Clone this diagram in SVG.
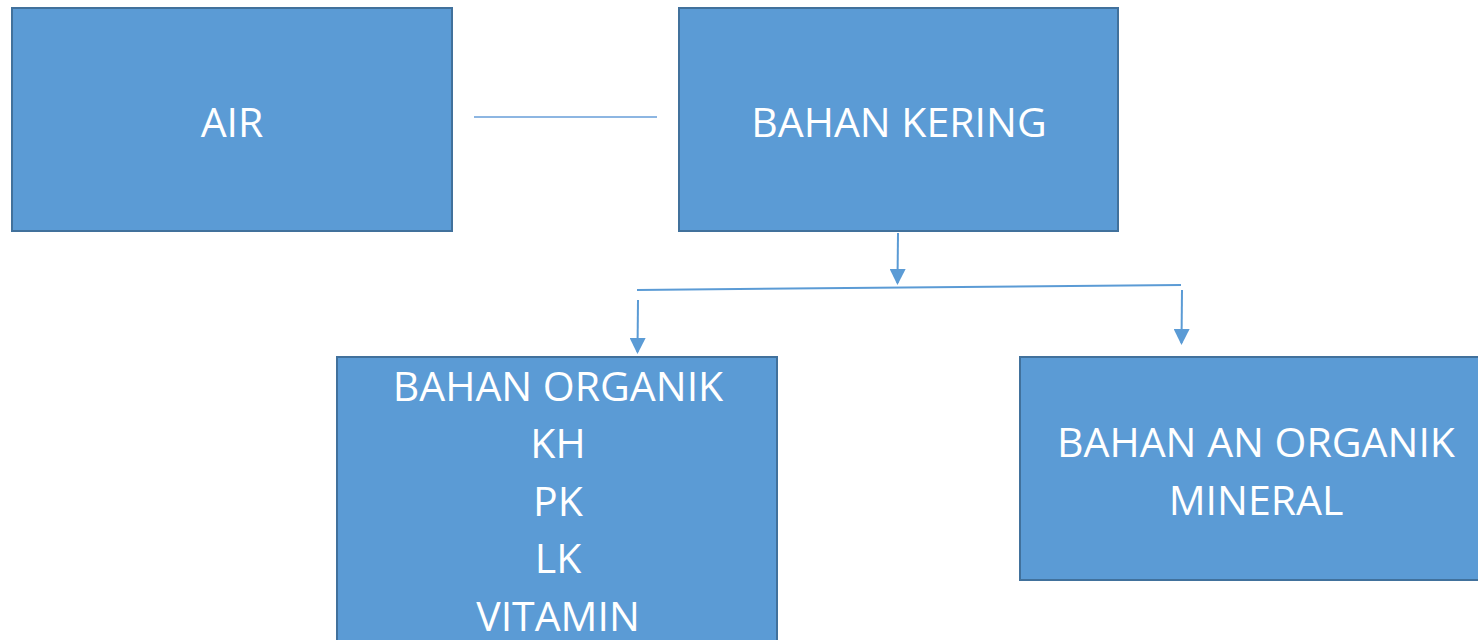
<svg xmlns="http://www.w3.org/2000/svg" width="1478" height="640" viewBox="0 0 1478 640">
<style>
.box{fill:#5B9BD5;stroke:#41719C;stroke-width:2}
.lbl{font-family:"Open Sans","Noto Sans",sans-serif;font-size:41px;fill:#fff;text-anchor:middle}
.con{stroke:#5B9BD5;stroke-width:2;fill:none}
.plain{stroke:#8DB6E2;stroke-width:2;fill:none}
</style>
<defs>
<marker id="ah" markerWidth="8" markerHeight="8" refX="7" refY="4" orient="auto" markerUnits="strokeWidth">
<path d="M0,0 L8,4 L0,8 Z" fill="#5B9BD5"/>
</marker>
</defs>
<rect width="1478" height="640" fill="#fff"/>
<g id="node-air">
<rect class="box" x="12" y="8" width="440" height="223"/>
<text class="lbl" x="232" y="137">AIR</text>
</g>
<g id="node-bahan-kering">
<rect class="box" x="679" y="8" width="439" height="223"/>
<text class="lbl" x="899" y="137">BAHAN KERING</text>
</g>
<g id="node-bahan-organik">
<rect class="box" x="337" y="357" width="440" height="300"/>
<text class="lbl" x="558" y="401">BAHAN ORGANIK</text>
<text class="lbl" x="558" y="458">KH</text>
<text class="lbl" x="558" y="516">PK</text>
<text class="lbl" x="558" y="573">LK</text>
<text class="lbl" x="558" y="631">VITAMIN</text>
</g>
<g id="node-bahan-an-organik">
<rect class="box" x="1020" y="357" width="470" height="223"/>
<text class="lbl" x="1256" y="457">BAHAN AN ORGANIK</text>
<text class="lbl" x="1256" y="515">MINERAL</text>
</g>
<g id="connectors">
<line class="plain" x1="474" y1="117" x2="657" y2="117"/>
<line class="con" x1="898" y1="233" x2="897.5" y2="283" marker-end="url(#ah)"/>
<line class="con" x1="637" y1="290" x2="1181" y2="285"/>
<line class="con" x1="638" y1="300" x2="637.5" y2="352" marker-end="url(#ah)"/>
<line class="con" x1="1182" y1="290" x2="1181.5" y2="343" marker-end="url(#ah)"/>
</g>
</svg>
